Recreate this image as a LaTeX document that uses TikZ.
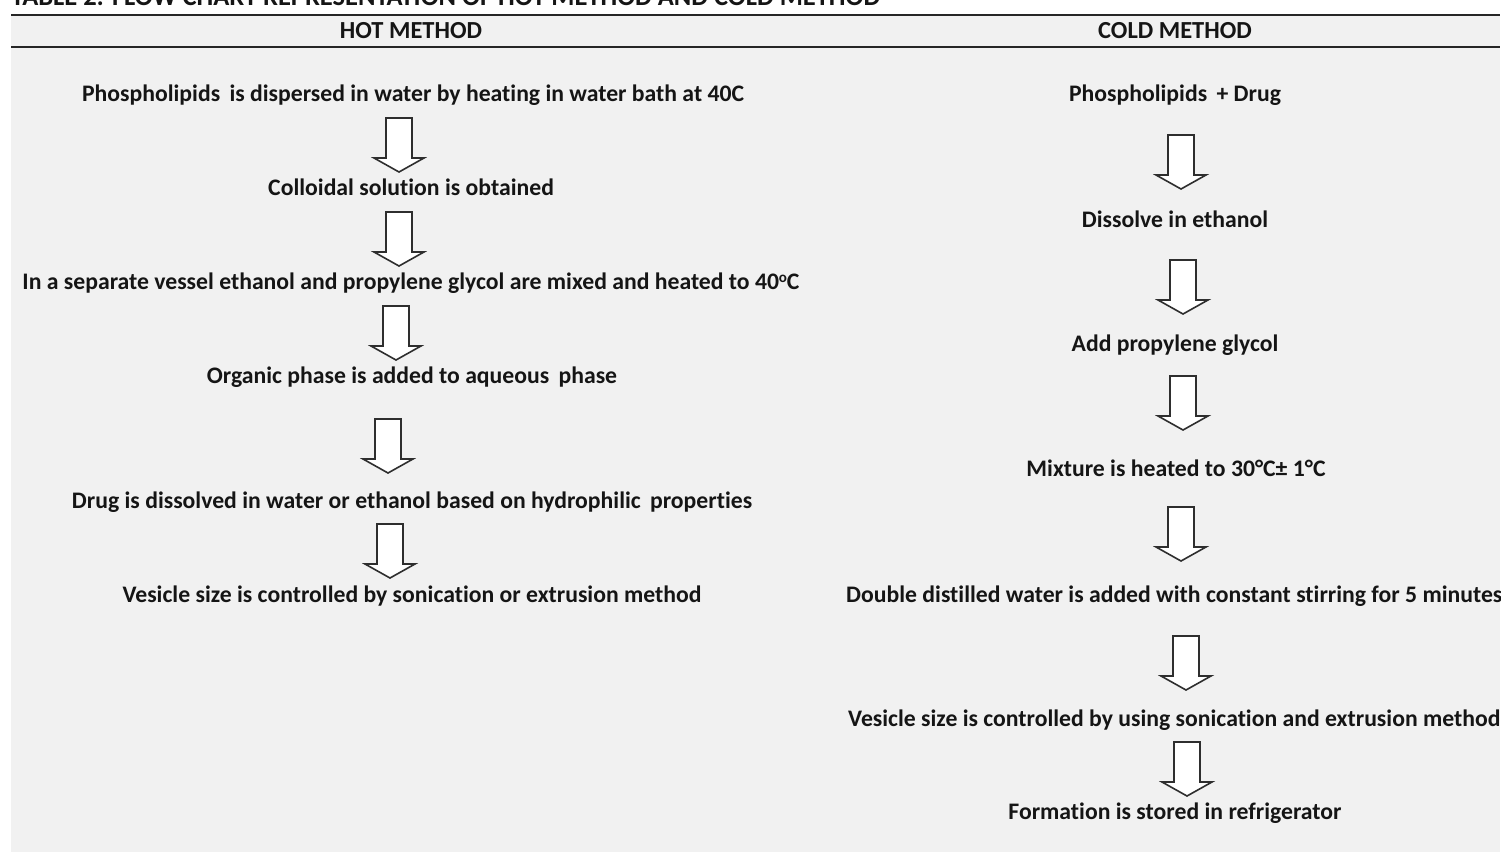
\documentclass[tikz,border=0pt]{standalone}
\usepackage{fontspec}
\setmainfont{Carlito}[Ligatures={NoCommon}]
\definecolor{bggray}{HTML}{F1F1F1}
\definecolor{txt}{HTML}{151515}
\definecolor{arrowline}{HTML}{2E2E2E}
\tikzset{
  steptext/.style={font=\fontsize{23.7}{28}\selectfont\bfseries, text=txt, inner sep=0pt, anchor=base},
  headtext/.style={font=\fontsize{24.5}{28}\selectfont\bfseries, text=txt, inner sep=0pt, anchor=base},
  captext/.style={font=\fontsize{26.5}{30}\selectfont\bfseries, text=txt, inner sep=0pt, anchor=base west},
  rule/.style={line width=2pt, draw=black!85},
  arrowstyle/.style={draw=arrowline, fill=white, line width=1.6pt, line join=miter},
  blockarrow/.pic={\path[arrowstyle] (-13,0) -- (13,0) -- (13,40) -- (25,40) -- (0,54) -- (-25,40) -- (-13,40) -- cycle;}
}
\begin{document}
\begin{tikzpicture}[x=1pt,y=-1pt]
\useasboundingbox (0,0) rectangle (1504,852);
\fill[white] (0,0) rectangle (1504,852);
\fill[bggray] (11,15) rectangle (1500,852);
\begin{scope}
\clip (0,0) rectangle (1500,852);
% caption (cut off at the top, as in the source)
\node[captext] (caption) at (11,5) {TABLE 2: FLOW CHART REPRESENTATION OF HOT METHOD AND COLD METHOD};
% rules
\coordinate (r1a) at (11,15); \coordinate (r1b) at (1500,15);
\coordinate (r2a) at (11,47); \coordinate (r2b) at (1500,47);
\draw[rule] (r1a) -- (r1b);
\draw[rule] (r2a) -- (r2b);
% headers
\node[headtext] (hot) at (411,38) {HOT METHOD};
\node[headtext] (cold) at (1175,38) {COLD METHOD};
% hot method
\node[steptext] (h1) at (413,101) {Phospholipids\, is dispersed in water by heating in water bath at 40C};
\node[steptext] (h2) at (411,195) {Colloidal solution is obtained};
\node[steptext] (h3) at (411,289) {In a separate vessel ethanol and propylene glycol are mixed and heated to 40{\fontsize{15}{15}\selectfont\raisebox{7pt}{o}}C};
\node[steptext] (h4) at (412,383) {Organic phase is added to aqueous\, phase};
\node[steptext] (h5) at (412,508) {Drug is dissolved in water or ethanol based on hydrophilic\, properties};
\node[steptext] (h6) at (412,602) {Vesicle size is controlled by sonication or extrusion method};
\pic at (399,118) {blockarrow};
\pic at (399,212) {blockarrow};
\pic at (396,306) {blockarrow};
\pic at (388,419) {blockarrow};
\pic at (390,524) {blockarrow};
% cold method
\node[steptext] (c1) at (1175,101) {Phospholipids\, + Drug};
\node[steptext] (c2) at (1175,227) {Dissolve in ethanol};
\node[steptext] (c3) at (1175,351) {Add propylene glycol};
\node[steptext] (c4) at (1176,476) {Mixture is heated to 30°C± 1°C};
\node[steptext, anchor=base west] (c5) at (846,602) {Double distilled water is added with constant stirring for 5 minutes};
\node[steptext, anchor=base west] (c6) at (848,726) {Vesicle size is controlled by using sonication and extrusion method};
\node[steptext] (c7) at (1175,819) {Formation is stored in refrigerator};
\pic at (1181,135) {blockarrow};
\pic at (1183,260) {blockarrow};
\pic at (1183,376) {blockarrow};
\pic at (1181,507) {blockarrow};
\pic at (1186,636) {blockarrow};
\pic at (1187,742) {blockarrow};
\end{scope}
\end{tikzpicture}
\end{document}
